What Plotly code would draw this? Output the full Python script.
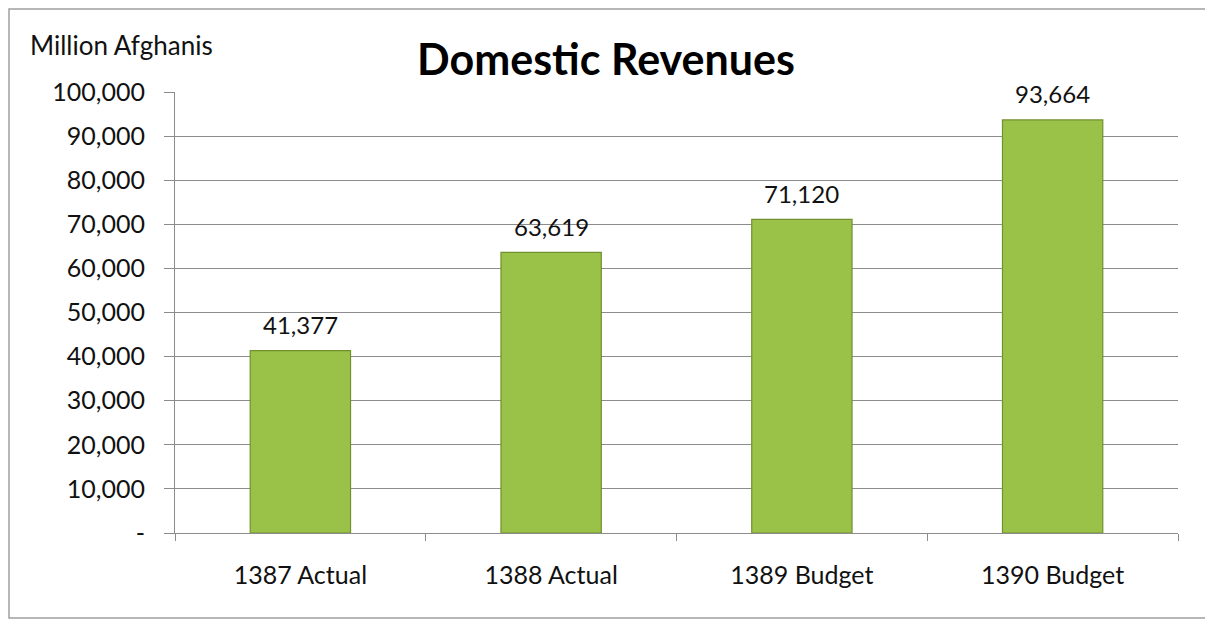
import plotly.graph_objects as go

categories = ["1387 Actual", "1388 Actual", "1389 Budget", "1390 Budget"]
revenues = [41377, 63619, 71120, 93664]
y_tickvals = [0, 10000, 20000, 30000, 40000, 50000, 60000, 70000, 80000, 90000, 100000]
y_ticktext = ["-", "10,000", "20,000", "30,000", "40,000", "50,000", "60,000",
              "70,000", "80,000", "90,000", "100,000"]
title_text = "Domestic Revenues"
unit_text = "Million Afghanis"

FONT = "Lato"
OFF = 8  # page body margin offset
W, H = 1213 - OFF, 621 - OFF
L, T = 175 - OFF, 92 - OFF
PW, PH = 1003, 441

fig = go.Figure()
fig.add_trace(go.Bar(
    x=categories, y=revenues,
    marker=dict(color="#9ac249", line=dict(color="#71902e", width=1.2)),
    hoverinfo="skip",
))

annotations = []
for c, v in zip(categories, revenues):
    annotations.append(dict(
        x=c, y=v, xref="x", yref="y", text=f"{v:,}", showarrow=False,
        yanchor="middle", yshift=26, font=dict(family=FONT, size=24, color="#111"),
    ))
annotations.append(dict(
    x=(28 - 175) / PW, y=(533 - 45) / PH, xref="paper", yref="paper",
    text=unit_text, showarrow=False, xanchor="left", yanchor="middle",
    font=dict(family=FONT, size=26, color="#111"),
))

fig.update_layout(
    width=W, height=H,
    margin=dict(l=L, r=W - L - PW, t=T, b=H - T - PH),
    paper_bgcolor="white", plot_bgcolor="white",
    bargap=0.6,
    showlegend=False,
    title=dict(text=f"<b>{title_text}</b>", x=(606 - OFF) / W, xref="container", xanchor="center",
               y=1 - (60 - OFF) / H, yref="container", yanchor="middle",
               font=dict(family=FONT, size=43, color="#000")),
    annotations=annotations,
    shapes=[dict(type="rect", xref="paper", yref="paper",
                 x0=(OFF + 1 - 175) / PW, x1=(1210 - 175) / PW,
                 y0=(533 - 618) / PH, y1=(533 - OFF - 1) / PH,
                 line=dict(color="#a0a0a0", width=1.5), fillcolor="rgba(0,0,0,0)",
                 layer="below")],
)
fig.update_yaxes(
    range=[0, 100000], tickvals=y_tickvals, ticktext=y_ticktext,
    showgrid=True, gridcolor="#8c8c8c", gridwidth=1,
    showline=True, linecolor="#8c8c8c", linewidth=1,
    ticks="outside", ticklen=10, tickcolor="#8c8c8c",
    zeroline=False, ticklabelstandoff=14,
    tickfont=dict(family=FONT, size=25, color="#111"),
    fixedrange=True,
)
fig.update_xaxes(
    showline=True, linecolor="#8c8c8c", linewidth=1,
    ticks="outside", ticklen=7, tickcolor="#8c8c8c", tickson="boundaries",
    ticklabelstandoff=20,
    tickfont=dict(family=FONT, size=25, color="#111"),
    fixedrange=True,
)
fig.write_html("out.html")
